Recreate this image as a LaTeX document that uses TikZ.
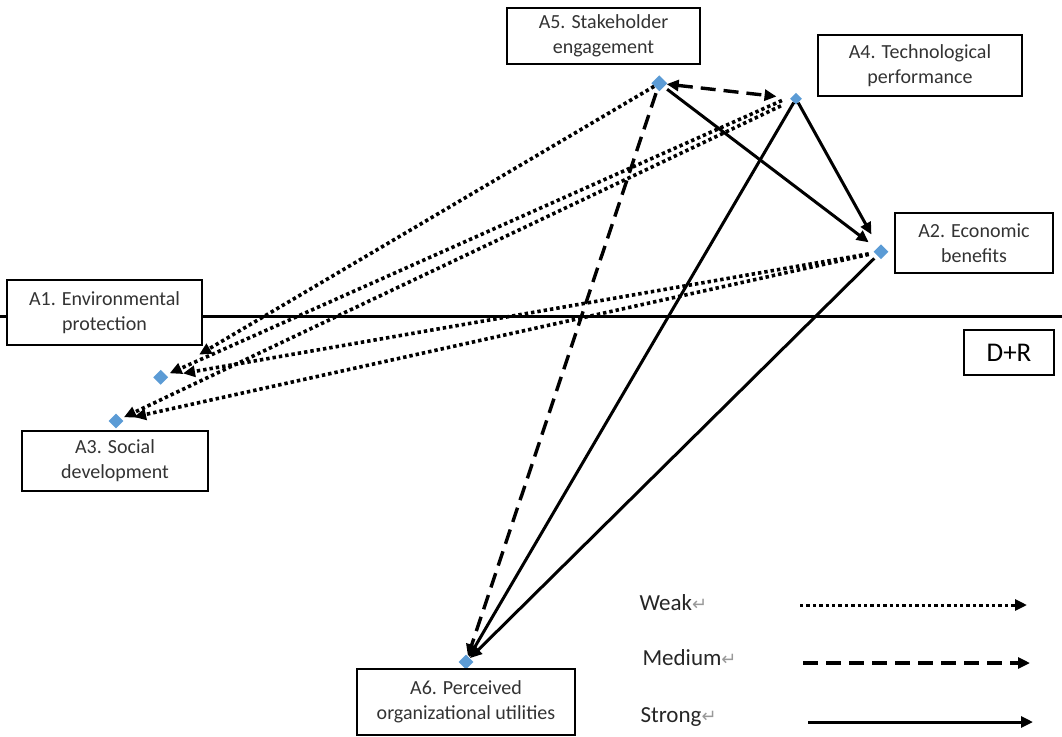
\documentclass[tikz,border=0pt]{standalone}
\usepackage{fontspec}
\setmainfont{Carlito}
\newfontfamily\symfont{DejaVu Sans}
\usetikzlibrary{shapes.geometric,arrows.meta}
\definecolor{ptblue}{HTML}{5B9BD5}
\newcommand{\retmark}{{\symfont\fontsize{18}{18}\selectfont\color{black!40}↵}}

\begin{document}
\begin{tikzpicture}[x=1pt,y=-1pt,
    >={Triangle[length=12pt,width=11pt]},
    pt/.style={diamond,fill=ptblue,inner sep=0pt,minimum size=15pt},
    box/.style={draw,line width=1.5pt,fill=white,align=center,text=black!80,
      font=\fontsize{20}{25}\selectfont},
    weak/.style={->,line width=3.6pt,dash pattern=on 3.4pt off 3pt},
    medium/.style={->,line width=3.4pt,dash pattern=on 15pt off 8pt},
    strong/.style={->,line width=3pt},
    lbl/.style={anchor=west,text=black!85,font=\fontsize{23}{23}\selectfont}]
      \useasboundingbox (0,0) rectangle (1062,736);

      \node[pt] (1) at (160.7,377.3) {};
      \node[pt] (2) at (881,251.7) {};
      \node[pt] (3) at (116,421) {};
      \node[pt,minimum size=12pt] (4) at (796,98.7) {};
      \node[pt,minimum size=16pt] (5) at (659.3,83.3) {};
      \node[pt] (6) at (466,662) {};

      \coordinate (l) at (0,316);
      \coordinate (r) at (1062,316);
      \draw[line width=3pt] (l) -- (r);

      \draw[weak,shorten >=39pt] (5) -- (1);
      \draw[weak,shorten <=12pt,shorten >=4pt] (4.north west) -- (1);
      \draw[weak,shorten <=6pt,shorten >=16pt] (2) -- (1);
      \draw[weak,shorten <=12pt,shorten >=3pt] (4) -- (3);
      \draw[weak,shorten <=6pt,shorten >=12pt] (2) -- (3);
      \draw[medium,<->,shorten >=14pt] (5) -- (4);
      \draw[medium,shorten <=4pt] (5) -- (6);
      \draw[strong,shorten <=4pt,shorten >=10pt] (5) -- (2);
      \draw[strong,shorten >=14pt] (4) -- (2);
      \draw[strong] (4) -- (6);
      \draw[strong,shorten <=4pt] (2) -- (6);

      \node[box,minimum width=193pt,minimum height=56pt] (b5) at (603.5,36) {A5. Stakeholder\\engagement};
      \node[box,minimum width=204pt,minimum height=61pt] (b4) at (920,65.5) {A4. Technological\\performance};
      \node[box,minimum width=158pt,minimum height=60pt] (b2) at (974,243) {A2. Economic\\benefits};
      \node[box,minimum width=195pt,minimum height=65pt] (b1) at (104.5,312.5) {A1. Environmental\\protection};
      \node[box,minimum width=186pt,minimum height=60pt] (b3) at (115,461) {A3. Social\\development};
      \node[box,minimum width=218pt,minimum height=66pt] (b6) at (466,702) {A6. Perceived\\organizational utilities};
      \node[box,minimum width=90pt,minimum height=45pt,font=\fontsize{27}{27}\selectfont,text=black] (dr) at (1009,352.5) {D+R};

      \node[lbl] (w) at (636,603) {Weak\retmark};
      \node[lbl] (m) at (639,658) {Medium\retmark};
      \node[lbl] (s) at (637,717) {Strong\retmark};
      \coordinate (w1) at (800,605);
      \coordinate (w2) at (1027,605);
      \coordinate (m1) at (803,663);
      \coordinate (m2) at (1030,663);
      \coordinate (s1) at (808,722);
      \coordinate (s2) at (1033,722);
      \draw[weak,line width=3pt] (w1) -- (w2);
      \draw[medium] (m1) -- (m2);
      \draw[strong] (s1) -- (s2);
    \end{tikzpicture}
\end{document}
